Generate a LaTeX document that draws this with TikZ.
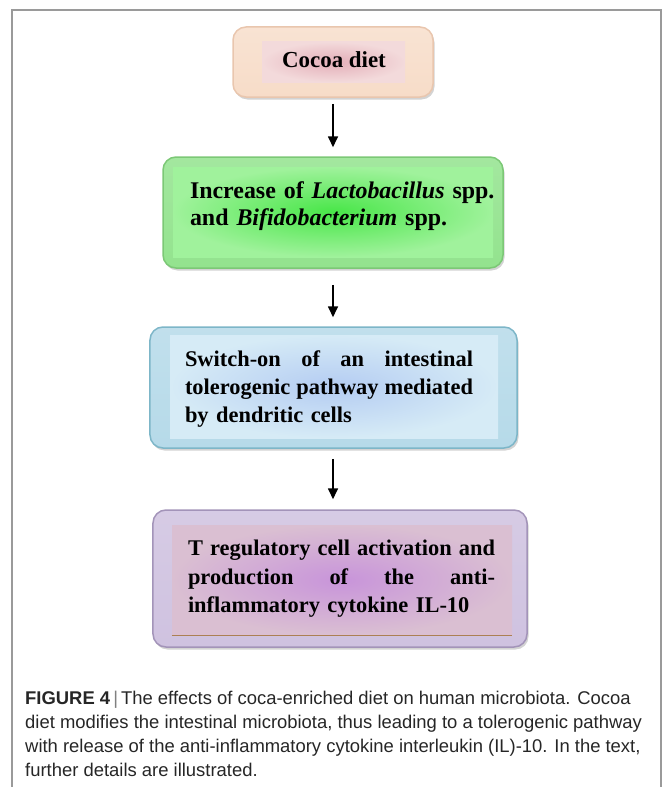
\documentclass[tikz,border=0pt]{standalone}
\usepackage{fontspec}
\setmainfont{Liberation Serif}
\newfontfamily\capfont{Liberation Sans}
\usetikzlibrary{arrows.meta,shadows}
\definecolor{frameg}{HTML}{9A9A9A}
\definecolor{pOut}{HTML}{F7DCC8}
\definecolor{pOutB}{HTML}{E9C6AE}
\definecolor{pInC}{HTML}{E3AEB8}
\definecolor{pInO}{HTML}{F3DADB}
\definecolor{gOut}{HTML}{93E38E}
\definecolor{gOutB}{HTML}{7CC876}
\definecolor{gInC}{HTML}{48E648}
\definecolor{gInO}{HTML}{A0F29C}
\definecolor{bOut}{HTML}{B6DAE9}
\definecolor{bOutB}{HTML}{7DB6C8}
\definecolor{bInC}{HTML}{B4CCF2}
\definecolor{bInO}{HTML}{D6EBF6}
\definecolor{vOut}{HTML}{CFC2E0}
\definecolor{vOutB}{HTML}{A394B9}
\definecolor{vInC}{HTML}{C894DA}
\definecolor{vInO}{HTML}{DABFD2}
\tikzset{
  outerbox/.style={rounded corners=13bp, line width=1.5bp, inner sep=0pt,
    drop shadow={shadow xshift=1.5bp, shadow yshift=-2.5bp, opacity=0.35}},
  innerbox/.style={inner sep=0pt, draw=none},
  boxtext/.style={inner sep=0pt, align=left,
    font=\fontsize{22.5}{28.5}\selectfont\bfseries},
  flowarrow/.style={-{Triangle[length=11bp,width=10bp]}, line width=1.7bp, black},
}
\begin{document}
\begin{tikzpicture}[x=1bp,y=-1bp]
\useasboundingbox (0,0) rectangle (663,787);
\draw[frameg, line width=1.2bp] (12,787) -- (12,10) -- (661,10) -- (661,787);

% Box 1
\node[outerbox, draw=pOutB, top color=pOut!80!white, bottom color=pOut,
  minimum width=200bp, minimum height=70bp] (b1) at (333,62) {};
\node[innerbox, inner color=pInC, outer color=pInO,
  minimum width=143bp, minimum height=40bp] (i1) at (333.5,62) {};
\node[boxtext, font=\fontsize{23}{28.5}\selectfont\bfseries] (t1) at (334,60) {Cocoa diet};

% Box 2
\node[outerbox, draw=gOutB, top color=gOut!85!white, bottom color=gOut,
  minimum width=340bp, minimum height=111bp] (b2) at (333,212.5) {};
\node[innerbox, inner color=gInC, outer color=gInO,
  minimum width=320bp, minimum height=90bp] (i2) at (333,212) {};
\node[boxtext, font=\fontsize{24}{26.5}\selectfont\bfseries, text width=310bp] (t2) at (345,206)
  {Increase of \textit{Lactobacillus} spp.\\
   and \textit{Bifidobacterium} spp.};

% Box 3
\node[outerbox, draw=bOutB, top color=bOut!85!white, bottom color=bOut,
  minimum width=367bp, minimum height=121bp] (b3) at (333.5,387.5) {};
\node[innerbox, inner color=bInC, outer color=bInO,
  minimum width=328bp, minimum height=103bp] (i3) at (334,386.5) {};
\node[boxtext, text width=288bp] (t3) at (329,389)
  {\hbox to \linewidth{Switch-on\hfill of\hfill an\hfill intestinal}
   \hbox to \linewidth{tolerogenic\hfill pathway\hfill mediated}
   by dendritic cells};

% Box 4
\node[outerbox, draw=vOutB, top color=vOut!85!white, bottom color=vOut,
  minimum width=374bp, minimum height=137bp] (b4) at (340,578.5) {};
\node[innerbox, inner color=vInC, outer color=vInO,
  minimum width=340bp, minimum height=110bp] (i4) at (342,580) {};
\draw[brown!70!gray, line width=1.2bp] (i4.south west) -- (i4.south east);
\node[boxtext, text width=307bp] (t4) at (341.5,579)
  {\hbox to \linewidth{T\hfill regulatory\hfill cell\hfill activation\hfill and}
   \hbox to \linewidth{production\hfill of\hfill the\hfill anti-}
   inflammatory cytokine IL-10};

% Arrows
\draw[flowarrow, shorten <=6bp, shorten >=9bp] (b1.south -| 333,0) -- (b2.north -| 333,0);
\draw[flowarrow, shorten <=16bp, shorten >=9bp] (b2.south -| 333,0) -- (b3.north -| 333,0);
\draw[flowarrow, shorten <=10bp, shorten >=10bp] (b3.south -| 333,0) -- (b4.north -| 333,0);

% Caption
\node[anchor=north west, inner sep=0pt, align=left,
  font=\capfont\fontsize{18.5}{24}\selectfont, text=black!85] (cap) at (25,691)
  {\textbf{FIGURE 4}\,{\color{gray}|}\,The effects of coca-enriched diet on human microbiota. Cocoa\\
   diet modifies the intestinal microbiota, thus leading to a tolerogenic pathway\\
   with release of the anti-inflammatory cytokine interleukin (IL)-10. In the text,\\
   further details are illustrated.};
\end{tikzpicture}
\end{document}
